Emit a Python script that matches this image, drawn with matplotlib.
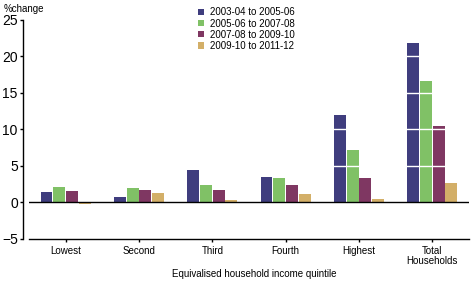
import matplotlib
matplotlib.use("Agg")
import matplotlib.pyplot as plt
import numpy as np

categories = ["Lowest", "Second", "Third", "Fourth", "Highest", "Total\nHouseholds"]
series_names = ["2003-04 to 2005-06", "2005-06 to 2007-08", "2007-08 to 2009-10", "2009-10 to 2011-12"]
s1 = [1.4, 0.7, 4.4, 3.4, 11.9, 21.8]
s2 = [2.0, 1.9, 2.3, 3.3, 7.1, 16.6]
s3 = [1.5, 1.6, 1.6, 2.3, 3.3, 10.4]
s4 = [-0.2, 1.2, 0.3, 1.1, 0.4, 2.6]
colors = ["#3F3D7E", "#80C166", "#7F3762", "#D3AF68"]
yticks = [-5, 0, 5, 10, 15, 20, 25]

plt.rcParams['font.family'] = ['Liberation Sans', 'DejaVu Sans']
fig = plt.figure(figsize=(4.72, 2.83), dpi=100)
ax = fig.add_axes([0.0614, 0.157, 0.9322, 0.774])

x = np.arange(len(categories))
step = 0.173
width = 0.16
for i, (vals, c, name) in enumerate(zip([s1, s2, s3, s4], colors, series_names)):
    ax.bar(x + (i - 1.5) * step, vals, width=width, color=c, label=name, zorder=2)

for yv in [5, 10, 15, 20]:
    ax.axhline(yv, color="white", lw=1.0, zorder=3)
ax.axhline(0, color="black", lw=1.0, zorder=4)

ax.set_xlim(-0.5, len(categories) - 0.5)
ax.set_ylim(-5, 25)
ax.set_yticks(yticks)
ax.set_yticklabels([("\u2212" + str(abs(v))) if v < 0 else str(v) for v in yticks], fontsize=7)
ax.set_xticks(x)
ax.set_xticklabels(categories, fontsize=7, linespacing=1.0)
ax.tick_params(axis='both', length=2.2, width=1, color='black', pad=1.5)
ax.tick_params(axis='x', pad=3)

ax.spines['top'].set_visible(False)
ax.spines['right'].set_visible(False)
ax.spines['left'].set_position(('outward', 6 * 72 / 100))
ax.spines['left'].set_linewidth(1)
ax.spines['bottom'].set_linewidth(1)

fig.text(254 / 472, 1 - 274 / 283, "Equivalised household income quintile", fontsize=7,
         ha='center', va='center')
fig.text(0.008, 0.985, "%change", fontsize=7, ha='left', va='top')

leg = ax.legend(loc='upper left', bbox_to_anchor=(0.384, 1.055), frameon=False, fontsize=7,
                handlelength=0.6, handleheight=0.6, handletextpad=0.6, labelspacing=0.12,
                borderaxespad=0, borderpad=0)

fig.savefig("out.png", dpi=100)
